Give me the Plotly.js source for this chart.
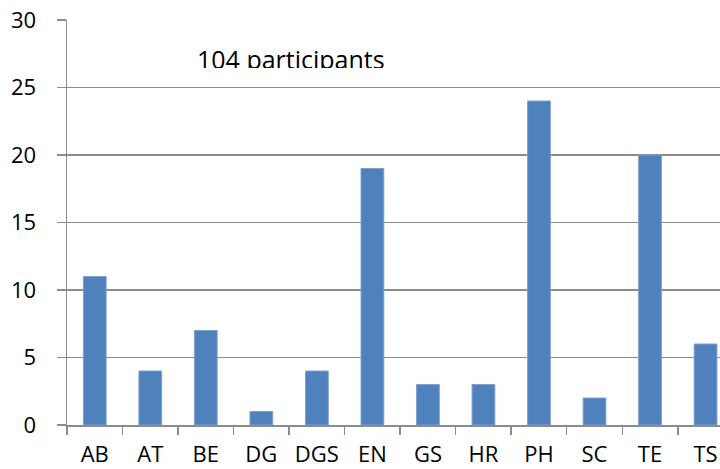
<!DOCTYPE html>
<html>
<head>
<meta charset="utf-8">
<script src="https://cdn.plot.ly/plotly-3.0.1.min.js"></script>
<style>html,body{margin:0;padding:0;background:#fff;overflow:hidden}</style>
</head>
<body>
<div id="chart" style="width:720px;height:469px"></div>
<script>
const categories = ["AB","AT","BE","DG","DGS","EN","GS","HR","PH","SC","TE","TS"];
const counts = [11,4,7,1,4,19,3,3,24,2,20,6];
const yTicks = [0,5,10,15,20,25,30];
const noteText = "104 participants";

const trace = {
  type: "bar",
  x: categories,
  y: counts,
  width: 0.41,
  marker: {color: "#4F81BD", line: {color: "#7EA1CE", width: 1}},
  hoverinfo: "none"
};

const layout = {
  width: 720, height: 469,
  margin: {l: 67, r: 0, t: 20, b: 44},
  paper_bgcolor: "#fff", plot_bgcolor: "#fff",
  showlegend: false,
  font: {family: "Open Sans, sans-serif", size: 22, color: "#000"},
  xaxis: {
    type: "category",
    range: [-0.5, 11.26],
    showgrid: false,
    zeroline: false,
    showline: true,
    linecolor: "#8C8C8C",
    linewidth: 1.5,
    ticks: "outside",
    tickson: "boundaries",
    ticklen: 8,
    tickcolor: "#8C8C8C",
    tickwidth: 1.5,
    ticklabelstandoff: 9,
    tickfont: {size: 22}
  },
  yaxis: {
    range: [0, 30],
    tickmode: "array",
    tickvals: yTicks,
    showgrid: true,
    gridcolor: "#8C8C8C",
    gridwidth: 1.5,
    zeroline: false,
    showline: true,
    linecolor: "#8C8C8C",
    linewidth: 1.5,
    ticks: "outside",
    ticklen: 9,
    tickcolor: "#8C8C8C",
    tickwidth: 1.5,
    ticklabelstandoff: 16,
    tickfont: {size: 22}
  },
  annotations: [
    {xref: "paper", yref: "y", x: 0.343, y: 27.4, text: noteText, showarrow: false,
     font: {size: 25, color: "#000"}, height: 26, valign: "top", yanchor: "middle"}
  ]
};

Plotly.newPlot("chart", [trace], layout, {staticPlot: true, displayModeBar: false});
</script>
</body>
</html>
